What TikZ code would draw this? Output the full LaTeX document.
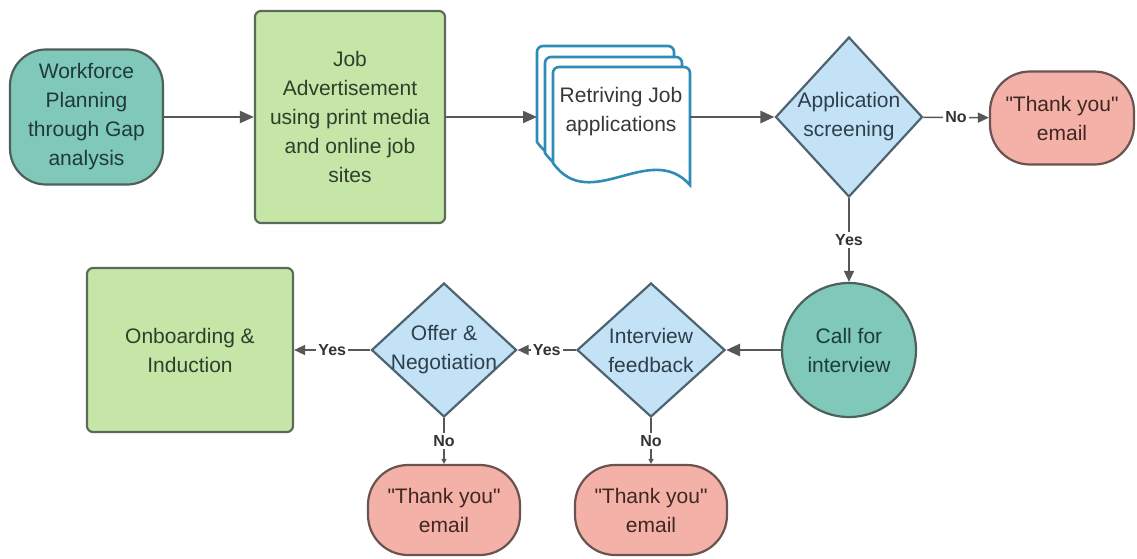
\documentclass[tikz,border=0pt]{standalone}
\usepackage{fontspec}
\setmainfont{Liberation Sans}
\usepackage{tikz}
\usetikzlibrary{shapes.geometric,arrows.meta}
\usepackage{xcolor}
\definecolor{planfill}{HTML}{80C8BA}
\definecolor{planline}{HTML}{4E605A}
\definecolor{plantext}{HTML}{1E3B35}
\definecolor{taskfill}{HTML}{C6E6A8}
\definecolor{taskline}{HTML}{5A6B57}
\definecolor{tasktext}{HTML}{2F3F2B}
\definecolor{askfill}{HTML}{C3E2F6}
\definecolor{askline}{HTML}{4D6371}
\definecolor{asktext}{HTML}{2D3F4B}
\definecolor{mailfill}{HTML}{F4B1A7}
\definecolor{mailline}{HTML}{6A5350}
\definecolor{mailtext}{HTML}{3F2724}
\definecolor{sheetline}{HTML}{2E8CB6}
\definecolor{flowline}{HTML}{575757}
\tikzset{
	box/.style={draw, line width=1.1pt, align=center, font=\fontsize{10.5}{14.5}\selectfont},
	terminal/.style={box, fill=planfill, draw=planline, text=plantext, rounded corners=18pt},
	event/.style={box, circle, fill=planfill, draw=planline, text=plantext, inner sep=0pt},
	task/.style={box, fill=taskfill, draw=taskline, text=tasktext, rounded corners=3pt},
	decision/.style={box, diamond, fill=askfill, draw=askline, inner sep=0pt},
	asklabel/.style={align=center, text=asktext, font=\fontsize{10.5}{14.5}\selectfont},
	mail/.style={box, fill=mailfill, draw=mailline, text=mailtext, rounded corners=20pt},
	sheet/.style={draw=sheetline, fill=white, line width=1.3pt},
	doctext/.style={align=center, text=black!78, font=\fontsize{10.5}{14.5}\selectfont},
	flow/.style={draw=flowline, line width=1pt, -{Triangle[length=7pt,width=6pt]}},
	thinflow/.style={draw=flowline, line width=0.6pt, -{Triangle[length=2.5pt,width=2.5pt]}},
	choice/.style={fill=white, inner sep=1pt, text=black!80, font=\fontsize{8}{9}\selectfont\bfseries}
}
\newcommand{\thankmail}{\textquotedbl Thank you\textquotedbl\\email}

\begin{document}
\begin{tikzpicture}[x=0.5pt,y=-0.5pt]
\useasboundingbox (0,0) rectangle (1137,558);
% top row
\node[terminal, minimum width=76.5pt, minimum height=67.5pt] (plan) at (86.5,117) {Workforce\\Planning\\through Gap\\analysis};
\node[task, minimum width=95pt, minimum height=106pt] (advert) at (350,117) {Job\\Advertisement\\using print media\\and online job\\sites};
%
\foreach \dx/\dy in {-16/-21,-8/-10,0/0}
	\draw[sheet, shift={(\dx,\dy)}] (553,163) [rounded corners=3pt] -- (553,67) -- (690,67) [sharp corners] -- (690,185) .. controls (650,140) and (590,215) .. (553,163) -- cycle;
\node[doctext] (retrieve) at (621,112) {Retriving Job\\applications};
\coordinate (retin) at (537,117);
\coordinate (retout) at (690,117);
%
\node[decision, minimum width=73.5pt, minimum height=80pt, label={[asklabel]center:{Application\\screening}}] (screen) at (849,117) {};
\node[mail, minimum width=72pt, minimum height=46.5pt] (thanka) at (1062,118) {\thankmail};
% second row
\node[event, minimum size=67pt] (call) at (849,350) {Call for\\interview};
\node[decision, minimum width=74pt, minimum height=67pt, label={[asklabel]center:{Interview\\feedback}}] (review) at (651,350) {};
\node[decision, minimum width=72.5pt, minimum height=67pt, label={[asklabel]center:{Offer \&\\Negotiation}}] (offer) at (444,350) {};
\node[task, minimum width=103pt, minimum height=82pt] (onboard) at (190,350) {Onboarding \&\\Induction};
% bottom row
\node[mail, minimum width=76pt, minimum height=45pt] (thankb) at (444,510) {\thankmail};
\node[mail, minimum width=76pt, minimum height=45pt] (thankc) at (651,510) {\thankmail};
%
\draw[flow] (plan) to (advert);
\draw[flow] (advert) to (retin);
\draw[flow, line width=1.4pt] (retout) to (screen);
\draw[flow, line width=0.8pt, -{Triangle[length=5.5pt,width=5pt]}] (screen) to node[choice] {No} (thanka);
\draw[flow, line width=0.8pt, -{Triangle[length=5.5pt,width=5pt]}] (screen) to node[choice] {Yes} (call);
\draw[flow, line width=1.4pt] (call) to (review);
\draw[flow, line width=0.8pt, -{Triangle[length=5.5pt,width=5pt]}] (review) to node[choice] {Yes} (offer);
\draw[flow, line width=0.8pt, -{Triangle[length=5.5pt,width=5pt]}] (offer) to node[choice] {Yes} (onboard);
\draw[thinflow] (offer) to node[choice] {No} (thankb);
\draw[thinflow] (review) to node[choice] {No} (thankc);
\end{tikzpicture}
\end{document}
